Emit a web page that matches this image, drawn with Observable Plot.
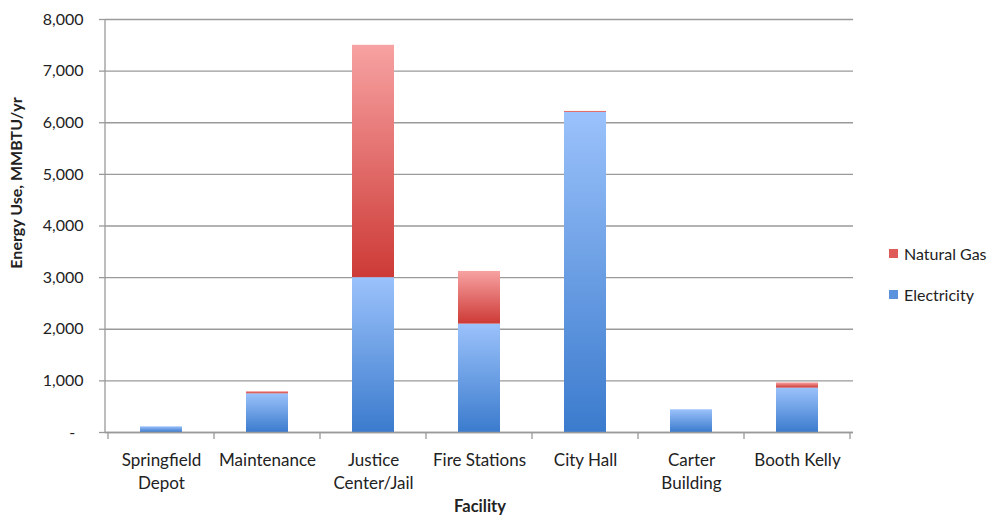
<!DOCTYPE html>
<html>
<head>
<meta charset="utf-8">
<script src="https://cdn.jsdelivr.net/npm/d3@7"></script>
<script src="https://cdn.jsdelivr.net/npm/@observablehq/plot@0.6"></script>
<style>
  html, body { margin: 0; padding: 0; background: #fff; }
  #wrap { position: relative; width: 996px; height: 518px; overflow: hidden; font-family: Lato, "Open Sans", sans-serif; }
  #legend { position: absolute; left: 889px; top: 242px; font-size: 16px; color: #222; }
  #legend .item { display: flex; align-items: center; height: 22px; margin-bottom: 19px; }
  #legend .sw { width: 9px; height: 9px; margin-right: 6px; }
  #ylabel { position: absolute; left: 15px; top: 183px; transform: translate(-50%, -50%) rotate(-90deg); font-weight: bold; font-size: 16px; color: #222; white-space: nowrap; }
  #xlabel { position: absolute; left: 480px; top: 506px; transform: translate(-50%, -50%); font-weight: bold; font-size: 16.5px; line-height: 20px; color: #222; }
</style>
</head>
<body>
<div id="wrap"></div>
<script>
// Facilities and their annual energy use by source (MMBTU/yr)
const facilities = ["Springfield\nDepot", "Maintenance", "Justice\nCenter/Jail", "Fire Stations", "City Hall", "Carter\nBuilding", "Booth Kelly"];
const electricity = [110, 750, 3000, 2100, 6200, 440, 860];
const naturalGas = [0, 40, 4500, 1020, 20, 0, 100];
const sources = ["Electricity", "Natural Gas"];
const yTicks = [0, 1000, 2000, 3000, 4000, 5000, 6000, 7000, 8000];

const rows = [];
facilities.forEach((f, i) => {
  rows.push({facility: f, source: "Electricity", value: electricity[i]});
  rows.push({facility: f, source: "Natural Gas", value: naturalGas[i]});
});

// Vertical gradients used to fill each bar segment
function gradients() {
  const defs = d3.create("svg:defs");
  const add = (id, top, bottom) => {
    const g = defs.append("linearGradient").attr("id", id)
      .attr("x1", 0).attr("y1", 0).attr("x2", 0).attr("y2", 1);
    g.append("stop").attr("offset", "0%").attr("stop-color", top);
    g.append("stop").attr("offset", "100%").attr("stop-color", bottom);
  };
  add("gradElec", "#9bc2fb", "#3b7bcd");
  add("gradGas", "#f7a2a2", "#cd3a36");
  return defs.node();
}

// Left axis line and category-boundary ticks along the bottom axis
function axisFrame(index, scales, values, dims) {
  const x = scales.x;
  const g = d3.create("svg:g").attr("stroke", "#9a9a9a").attr("stroke-width", 1.3);
  const left = dims.marginLeft, right = dims.width - dims.marginRight;
  const bottom = dims.height - dims.marginBottom, top = dims.marginTop;
  g.append("line").attr("x1", left).attr("x2", left).attr("y1", top).attr("y2", bottom);
  const step = x.step ? x.step() : (right - left) / facilities.length;
  const bw = x.bandwidth ? x.bandwidth() : 0;
  const edges = facilities.map(f => x(f) + bw / 2 - step / 2);
  edges.push(edges[edges.length - 1] + step);
  edges.forEach(e => g.append("line").attr("x1", e).attr("x2", e).attr("y1", bottom).attr("y2", bottom + 7));
  return g.node();
}

const chart = Plot.plot({
  width: 996,
  height: 518,
  marginLeft: 105,
  marginRight: 143,
  marginTop: 19,
  marginBottom: 86,
  style: {fontFamily: "Lato, 'Open Sans', sans-serif", fontSize: "16px", color: "#222", background: "white"},
  x: {domain: facilities, paddingInner: 0.6, paddingOuter: 0.3, label: null},
  y: {domain: [0, 8000], label: null},
  color: {domain: sources, range: ["url(#gradElec)", "url(#gradGas)"]},
  marks: [
    gradients,
    Plot.gridY(yTicks, {stroke: "#9a9a9a", strokeOpacity: 1, strokeWidth: 1.3}),
    Plot.axisY({ticks: yTicks, tickSize: 6, tickPadding: 16, stroke: "#9a9a9a", strokeWidth: 1.3,
      tickFormat: d => d === 0 ? "-\u00a0\u00a0" : d3.format(",")(d), fontSize: 16, label: null}),
    Plot.axisX({tickSize: 0, tickPadding: 17, lineHeight: 1.35, fontSize: 17, label: null}),
    Plot.barY(rows, {x: "facility", y: "value", fill: "source", order: sources}),
    Plot.ruleY([0], {stroke: "#9a9a9a", strokeWidth: 1.3}),
    axisFrame
  ]
});

const wrap = document.getElementById("wrap");
wrap.appendChild(chart);

const ylab = document.createElement("div");
ylab.id = "ylabel";
ylab.textContent = "Energy Use, MMBTU/yr";
wrap.appendChild(ylab);

const xlab = document.createElement("div");
xlab.id = "xlabel";
xlab.textContent = "Facility";
wrap.appendChild(xlab);

// Legend: natural gas listed above electricity, as stacked
const legend = document.createElement("div");
legend.id = "legend";
[["Natural Gas", "#de5b58"], ["Electricity", "#5a92dd"]].forEach(([name, col]) => {
  const item = document.createElement("div");
  item.className = "item";
  const sw = document.createElement("span");
  sw.className = "sw";
  sw.style.background = col;
  const label = document.createElement("span");
  label.textContent = name;
  item.appendChild(sw);
  item.appendChild(label);
  legend.appendChild(item);
});
wrap.appendChild(legend);
</script>
</body>
</html>
